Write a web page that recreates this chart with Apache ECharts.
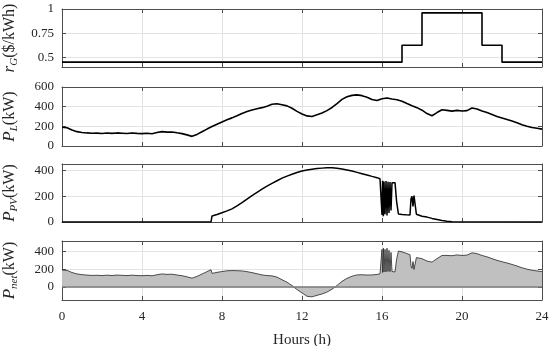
<!DOCTYPE html>
<html><head><meta charset="utf-8">
<script src="https://cdn.jsdelivr.net/npm/echarts@6/dist/echarts.min.js"></script>
<style>html,body{margin:0;padding:0;background:#fff}#c{width:550px;height:346px}</style>
</head><body><div id="c"></div>
<script>
// ---- data ----
const xTickLabels = [0, 4, 8, 12, 16, 20, 24];
const priceTicks = [0.5, 0.75, 1];
const loadTicks = [0, 200, 400, 600];
const pvTicks = [0, 200, 400];
const netTicks = [0, 200, 400];

const priceHours = [0, 17, 18, 21, 22, 24];
const priceValues = [0.45, 0.625, 0.96, 0.625, 0.45, 0.45];

const loadHours = [0,0.25,0.5,0.75,1,1.25,1.5,1.75,2,2.25,2.5,2.75,3,3.25,3.5,3.75,4,4.25,4.5,4.75,5,5.25,5.5,5.75,6,6.25,6.5,6.75,7,7.25,7.5,7.75,8,8.25,8.5,8.75,9,9.25,9.5,9.75,10,10.25,10.5,10.75,11,11.25,11.5,11.75,12,12.25,12.5,12.75,13,13.25,13.5,13.75,14,14.25,14.5,14.75,15,15.25,15.5,15.75,16,16.25,16.5,16.75,17,17.25,17.5,17.75,18,18.25,18.5,18.75,19,19.25,19.5,19.75,20,20.25,20.5,20.75,21,21.25,21.5,21.75,22,22.25,22.5,22.75,23,23.25,23.5,23.75,24];
const loadValues = [190,186,162,146,138,133,129,131,127,132,128,133,130,127,132,128,126,130,125,137,146,141,143,134,126,113,98,118,145,172,198,222,245,268,286,308,330,350,366,378,390,405,424,430,420,408,384,352,326,306,300,318,336,360,392,432,474,500,515,520,512,496,472,462,480,488,478,470,455,432,410,390,364,330,308,340,368,362,355,362,356,360,386,376,356,340,320,300,285,270,254,236,216,200,188,180,172];

const pvHours = [0,7.45,7.5,7.75,8,8.25,8.5,8.75,9,9.25,9.5,9.75,10,10.25,10.5,10.75,11,11.25,11.5,11.75,12,12.25,12.5,12.75,13,13.25,13.5,13.75,14,14.25,14.5,14.75,15,15.25,15.5,15.75,15.9,15.95,16,16.03,16.07,16.1,16.15,16.2,16.25,16.3,16.35,16.4,16.45,16.5,16.55,16.6,16.65,16.7,16.73,16.78,16.82,17,17.2,17.4,17.45,17.5,17.55,17.6,17.65,17.72,17.8,18,18.25,18.5,18.75,19,19.25,19.5,19.6,24];
const pvValues = [0,0,46,58,72,86,102,125,150,178,205,230,255,278,300,320,340,356,370,384,395,403,410,415,418,420,420,417,412,404,395,385,375,365,354,344,336,330,55,320,45,315,60,318,50,312,70,310,90,305,310,308,305,300,160,150,62,58,56,55,180,200,120,205,195,60,48,45,38,28,20,12,6,2,0,0];

const netHours = [0,0.25,0.5,0.75,1,1.25,1.5,1.75,2,2.25,2.5,2.75,3,3.25,3.5,3.75,4,4.25,4.5,4.75,5,5.25,5.5,5.75,6,6.25,6.5,6.75,7,7.25,7.45,7.5,7.75,8,8.25,8.5,8.75,9,9.25,9.5,9.75,10,10.25,10.5,10.75,11,11.25,11.5,11.75,12,12.25,12.5,12.75,13,13.25,13.5,13.75,14,14.25,14.5,14.75,15,15.25,15.5,15.75,15.9,15.95,16,16.03,16.07,16.1,16.15,16.2,16.25,16.3,16.35,16.4,16.45,16.5,16.55,16.6,16.65,16.7,16.73,16.78,16.82,17,17.2,17.4,17.45,17.5,17.55,17.6,17.65,17.72,17.8,18,18.25,18.5,18.75,19,19.25,19.5,19.75,20,20.25,20.5,20.75,21,21.25,21.5,21.75,22,22.25,22.5,22.75,23,23.25,23.5,23.75,24];
const netValues = [190,186,162,146,138,133,129,131,127,132,128,133,130,127,132,128,126,130,125,137,146,141,143,134,126,113,98,118,145,172,194,152,164,173,182,184,183,180,172,161,148,135,127,124,110,80,52,14,-32,-69,-108,-114,-97,-82,-60,-28,15,62,96,120,135,137,133,135,140,148,150,425,162,438,169,426,169,438,174,414,172,390,173,167,168,169,172,311,319,405,397,381,364,235,210,286,197,200,332,337,319,292,280,320,356,356,353,362,356,360,386,376,356,340,320,300,285,270,254,236,216,200,188,180,172];

// ---- chart ----
const FONT = 'Liberation Serif';
const TXT = '#262626';
const AX = '#4d4d4d';
const pairs = (xs, ys) => xs.map((x, i) => [x, ys[i]]);

const grids = [
  {left: 62, width: 480, top: 9, height: 58, outerBoundsMode: 'none', containLabel: false},
  {left: 62, width: 480, top: 87, height: 59, outerBoundsMode: 'none', containLabel: false},
  {left: 62, width: 480, top: 164, height: 58, outerBoundsMode: 'none', containLabel: false},
  {left: 62, width: 480, top: 241, height: 59, outerBoundsMode: 'none', containLabel: false}
];

const xAxes = [];
const yAxes = [];
for (let i = 0; i < 4; i++) {
  const last = i === 3;
  xAxes.push({
    type: 'value', gridIndex: i, min: 0, max: 24, interval: 4, position: 'bottom',
    axisLine: {show: true, onZero: false, lineStyle: {color: AX, width: 1}},
    axisTick: {show: true, inside: true, length: 4, lineStyle: {color: AX}},
    axisLabel: {show: last, margin: 10, fontFamily: FONT, fontSize: 13, color: TXT},
    splitLine: {show: true, lineStyle: {color: '#e3e3e3', width: 1}},
    name: last ? 'Hours (h)' : '', nameLocation: 'middle', nameGap: 33,
    nameTextStyle: {fontFamily: FONT, fontSize: 15, color: TXT}
  });
}
for (let i = 0; i < 4; i++) {
  xAxes.push({
    type: 'value', gridIndex: i, min: 0, max: 24, interval: 4, position: 'top',
    axisLine: {show: true, onZero: false, lineStyle: {color: AX, width: 1}},
    axisTick: {show: true, inside: true, length: 4, lineStyle: {color: AX}},
    axisLabel: {show: false}, splitLine: {show: false}
  });
}
const yDefs = [
  {min: 0.4, max: 1, ticks: priceTicks, name: '{i|r}{s|G}{n|($/kWh)}'},
  {min: 0, max: 600, ticks: loadTicks, name: '{i|P}{s|L}{n|(kW)}'},
  {min: 0, max: 450, ticks: pvTicks, name: '{i|P}{s|PV}{n|(kW)}'},
  {min: -150, max: 520, ticks: netTicks, name: '{i|P}{s|net}{n|(kW)}'}
];
const rich = {
  i: {fontFamily: FONT, fontStyle: 'italic', fontSize: 17, color: TXT, lineHeight: 20, verticalAlign: 'middle'},
  s: {fontFamily: FONT, fontStyle: 'italic', fontSize: 11, color: TXT, lineHeight: 11, verticalAlign: 'bottom'},
  n: {fontFamily: FONT, fontSize: 16, color: TXT, lineHeight: 20, verticalAlign: 'middle'}
};
yDefs.forEach((d, i) => {
  yAxes.push({
    type: 'value', gridIndex: i, min: d.min, max: d.max, position: 'left',
    axisLine: {show: true, onZero: false, lineStyle: {color: AX, width: 1}},
    axisTick: {show: true, inside: true, length: 4, lineStyle: {color: AX}, customValues: d.ticks},
    axisLabel: {show: true, margin: 8, fontFamily: FONT, fontSize: 13, color: TXT, customValues: d.ticks},
    splitLine: {show: true, lineStyle: {color: '#e3e3e3', width: 1}},
    name: d.name, nameLocation: 'middle', nameRotate: 90, nameGap: 42,
    nameTextStyle: {fontFamily: FONT, fontSize: 16, color: TXT, rich: rich}
  });
});
yDefs.forEach((d, i) => {
  yAxes.push({
    type: 'value', gridIndex: i, min: d.min, max: d.max, position: 'right',
    axisLine: {show: true, onZero: false, lineStyle: {color: AX, width: 1}},
    axisTick: {show: true, inside: true, length: 4, lineStyle: {color: AX}, customValues: d.ticks},
    axisLabel: {show: false, customValues: d.ticks}, splitLine: {show: false}
  });
});

const option = {
  animation: false,
  backgroundColor: '#fff',
  grid: grids,
  xAxis: xAxes,
  yAxis: yAxes,
  series: [
    {type: 'line', xAxisIndex: 0, yAxisIndex: 0, step: 'end', showSymbol: false,
     data: pairs(priceHours, priceValues), lineStyle: {color: '#000', width: 1.6}},
    {type: 'line', xAxisIndex: 1, yAxisIndex: 1, showSymbol: false,
     data: pairs(loadHours, loadValues), lineStyle: {color: '#000', width: 1.6}},
    {type: 'line', xAxisIndex: 2, yAxisIndex: 2, showSymbol: false,
     data: pairs(pvHours, pvValues), lineStyle: {color: '#000', width: 1.5}},
    {type: 'line', xAxisIndex: 3, yAxisIndex: 3, showSymbol: false,
     data: pairs(netHours, netValues), lineStyle: {color: '#262626', width: 0.8},
     areaStyle: {color: '#c0c0c0', opacity: 1},
     markLine: {silent: true, symbol: 'none', label: {show: false},
       lineStyle: {color: '#7a7a7a', width: 1.5, type: 'solid'}, data: [{yAxis: 0}]}}
  ]
};
const chart = echarts.init(document.getElementById('c'), null, {renderer: 'canvas'});
chart.setOption(option);
</script>
</body></html>
